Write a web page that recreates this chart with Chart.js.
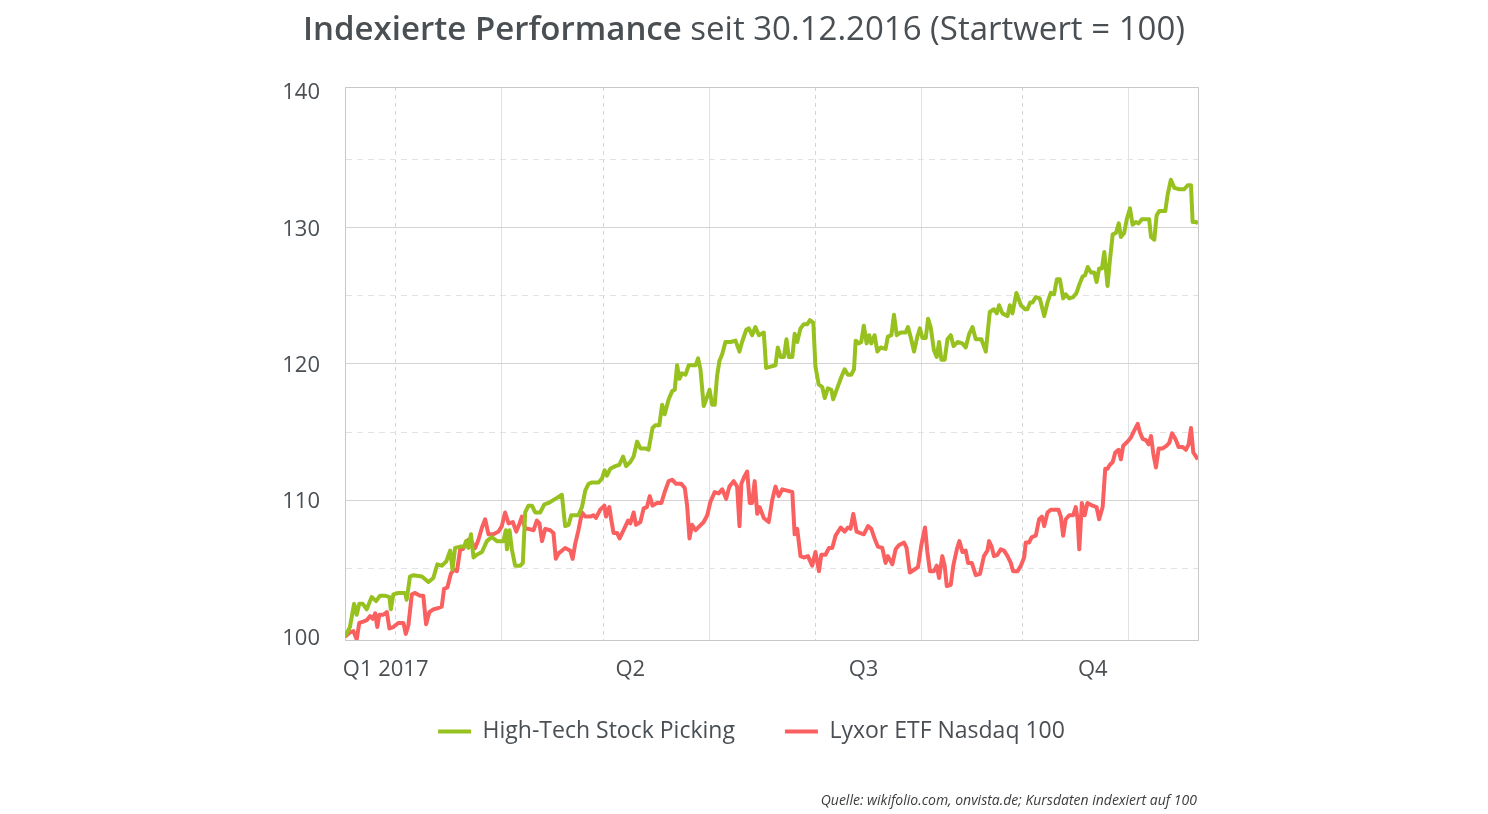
<!DOCTYPE html>
<html lang="de">
<head>
<meta charset="utf-8">
<title>Indexierte Performance</title>
<script src="https://cdn.jsdelivr.net/npm/chart.js@4/dist/chart.umd.min.js"></script>
<style>
  body { margin: 0; background: #fff; }
  #wrap { position: relative; width: 1488px; height: 814px; font-family: 'Open Sans', sans-serif; }
  #chart { position: absolute; left: 0; top: 0; }
  #titel { position: absolute; left: 0; top: 8px; width: 1488px; text-align: center; font-size: 33px; line-height: 40px; color: #4a4f54; }
  #titel b { font-weight: 600; }
  #quelle { position: absolute; right: 291px; top: 790px; font-size: 14px; line-height: 20px; font-style: italic; color: #3c3c3c; }
</style>
</head>
<body>
<div id="wrap">
  <canvas id="chart" width="1488" height="814"></canvas>
  <div id="titel"><b>Indexierte Performance</b> seit 30.12.2016 (Startwert = 100)</div>
  <div id="quelle">Quelle: wikifolio.com, onvista.de; Kursdaten indexiert auf 100</div>
</div>
<script>
// Tage seit 30.12.2016 und indexierte Werte (Startwert = 100)
const tageHT = [
  0, 2.1, 3.9, 5.0, 6.1, 7.6, 9.3, 11.4, 13.3, 15.0,
  17.1, 19.0, 19.6, 20.7, 22.8, 25.7, 26.4, 27.8, 29.3, 32.9,
  35.7, 37.8, 39.5, 41.4, 43.3, 45.0, 46.0, 47.1, 49.3, 51.0,
  51.8, 52.8, 53.9, 55.0, 56.4, 58.6, 60.7, 62.8, 65.0, 67.8,
  68.8, 69.3, 70.4, 71.4, 72.8, 75.0, 76.1, 77.1, 78.5, 80.0,
  81.4, 83.5, 85.3, 87.1, 90.0, 92.8, 94.2, 95.7, 96.8, 99.9,
  101.4, 102.8, 104.2, 105.7, 108.5, 110.0, 111.1, 112.1, 113.5, 115.7,
  117.4, 119.0, 120.3, 122.1, 123.5, 125.0, 126.4, 128.5, 129.9, 131.6,
  132.8, 134.5, 135.7, 136.8, 138.5, 140.0, 141.1, 142.1, 143.1, 144.2,
  145.7, 147.1, 148.8, 150.0, 151.1, 152.1, 153.5, 155.0, 156.0, 157.1,
  158.2, 159.2, 160.2, 161.4, 162.8, 165.0, 167.1, 168.8, 169.9, 171.7,
  172.8, 174.2, 175.6, 177.1, 179.2, 180.2, 182.1, 184.2, 185.2, 186.4,
  187.8, 188.9, 189.9, 191.4, 192.4, 193.5, 194.9, 196.3, 197.8, 198.9,
  200.4, 201.3, 202.7, 204.2, 205.3, 206.6, 208.1, 208.9, 210.6, 212.3,
  213.8, 215.2, 216.6, 217.8, 218.5, 219.9, 220.9, 222.0, 223.2, 224.3,
  225.2, 226.6, 227.8, 229.2, 231.3, 232.3, 233.8, 234.9, 236.1, 237.8,
  239.9, 240.9, 242.0, 243.5, 244.9, 246.0, 247.1, 248.5, 249.5, 250.6,
  252.0, 253.2, 254.2, 255.2, 256.6, 257.8, 259.2, 260.4, 262.1, 264.2,
  265.6, 267.1, 268.5, 269.9, 272.3, 274.2, 275.9, 277.7, 278.9, 279.9,
  281.3, 283.5, 284.5, 285.6, 287.3, 289.2, 291.0, 292.0, 293.2, 294.2,
  295.6, 297.3, 299.2, 300.6, 302.0, 303.4, 304.6, 305.9, 307.3, 308.4,
  309.9, 311.6, 313.0, 314.2, 315.6, 316.7, 317.8, 319.2, 320.6, 321.6,
  322.7, 323.9, 324.9, 326.3, 327.3, 328.5, 329.9, 331.1, 332.0, 333.4,
  334.5, 335.9, 337.0, 338.4, 339.6, 341.0, 344.1, 344.9, 346.3, 347.3,
  348.4, 351.0, 352.0, 353.4, 354.9, 357.0, 359.1, 360.6, 362.0, 362.7,
  364.1, 365.0
];
const wertHT = [
  100.0, 100.7, 102.4, 101.6, 102.4, 102.4, 102.0, 102.9, 102.6, 103.0,
  103.0, 102.9, 102.0, 103.1, 103.2, 103.2, 102.7, 104.4, 104.5, 104.4,
  104.0, 104.3, 105.3, 105.2, 105.5, 106.3, 104.9, 106.5, 106.6, 106.6,
  107.0, 106.5, 107.5, 105.8, 106.0, 106.2, 107.0, 107.3, 107.0, 107.0,
  107.8, 106.4, 107.8, 106.4, 105.2, 105.2, 105.4, 109.1, 109.6, 109.6,
  109.1, 109.1, 109.7, 109.8, 110.1, 110.4, 108.1, 108.2, 108.9, 108.9,
  109.5, 110.7, 111.2, 111.3, 111.3, 111.6, 112.2, 111.8, 112.3, 112.5,
  112.6, 113.2, 112.5, 112.8, 113.2, 114.3, 113.8, 113.8, 113.7, 115.3,
  115.5, 115.5, 117.0, 116.3, 117.4, 118.0, 118.1, 119.9, 118.9, 119.3,
  119.2, 119.9, 119.9, 119.9, 120.4, 119.6, 116.9, 117.6, 118.1, 117.0,
  117.0, 119.1, 120.2, 120.7, 121.6, 121.6, 121.7, 120.9, 121.6, 122.5,
  122.6, 122.1, 122.7, 122.1, 122.3, 119.7, 119.8, 119.9, 121.2, 120.5,
  120.5, 121.8, 120.5, 120.5, 122.2, 121.6, 122.6, 122.9, 122.9, 123.2,
  123.0, 119.8, 118.5, 118.3, 117.5, 118.2, 118.1, 117.4, 118.2, 119.0,
  119.6, 119.2, 119.2, 119.6, 121.7, 121.5, 121.6, 122.8, 121.5, 122.1,
  121.5, 122.1, 120.9, 121.2, 121.1, 122.0, 122.1, 123.6, 122.1, 122.3,
  122.3, 122.7, 122.0, 120.9, 122.0, 122.6, 121.9, 121.9, 123.3, 122.7,
  121.0, 120.5, 121.6, 120.3, 120.3, 121.8, 122.1, 121.3, 121.6, 121.5,
  121.2, 122.2, 122.7, 121.8, 121.8, 120.9, 123.8, 124.0, 123.7, 124.3,
  123.7, 123.5, 124.3, 123.7, 125.2, 124.3, 124.0, 124.0, 124.5, 124.5,
  124.9, 124.8, 123.5, 124.5, 125.2, 125.1, 126.2, 126.2, 124.8, 125.1,
  124.8, 124.9, 125.2, 125.8, 126.4, 126.5, 127.1, 126.7, 126.7, 126.0,
  127.0, 127.0, 128.2, 125.7, 127.6, 129.5, 129.6, 130.3, 129.3, 129.6,
  130.6, 131.4, 130.2, 130.4, 130.3, 130.6, 130.6, 129.3, 129.1, 130.9,
  131.2, 131.2, 132.4, 133.5, 132.9, 132.8, 132.8, 133.1, 133.1, 130.4,
  130.4, 130.3
];

const tageNdx = [
  0, 2.1, 3.6, 5.0, 6.1, 7.8, 9.3, 10.7, 11.9, 12.9,
  13.8, 14.7, 16.4, 17.9, 19.0, 20.7, 22.8, 25.0, 26.0, 27.1,
  28.6, 30.0, 32.1, 33.5, 34.7, 36.1, 37.8, 40.0, 41.4, 42.4,
  43.8, 45.3, 46.4, 47.9, 49.3, 50.4, 52.8, 54.3, 55.7, 57.1,
  58.6, 60.0, 61.4, 63.5, 65.7, 67.1, 68.5, 70.0, 71.8, 73.3,
  74.7, 75.7, 77.1, 78.5, 80.7, 82.1, 83.2, 84.3, 85.7, 87.8,
  89.2, 90.2, 91.4, 92.8, 94.2, 96.4, 97.4, 98.5, 99.9, 101.4,
  102.8, 105.0, 106.4, 107.4, 109.2, 111.0, 111.7, 113.1, 114.0, 114.9,
  116.4, 117.5, 119.2, 121.1, 122.1, 123.5, 124.5, 126.4, 127.8, 129.2,
  130.4, 131.6, 133.5, 135.4, 136.8, 138.5, 140.0, 141.7, 143.9, 145.4,
  146.4, 147.4, 148.5, 150.0, 151.7, 153.5, 155.0, 156.4, 158.2, 159.9,
  161.4, 163.1, 164.5, 166.3, 167.8, 168.8, 169.6, 170.8, 172.1, 173.2,
  174.2, 175.3, 176.4, 177.4, 179.2, 181.3, 182.8, 184.2, 185.6, 187.1,
  189.2, 191.4, 192.4, 193.5, 194.9, 196.3, 198.1, 199.9, 201.3, 202.8,
  203.8, 205.6, 207.1, 208.5, 209.9, 212.1, 213.8, 215.2, 216.3, 217.5,
  218.9, 220.3, 222.0, 223.8, 225.2, 226.6, 228.0, 229.9, 231.3, 232.3,
  234.2, 235.6, 237.0, 239.2, 240.3, 241.7, 243.5, 245.2, 246.6, 248.2,
  249.2, 250.3, 252.0, 253.2, 254.2, 255.6, 256.6, 257.5, 259.2, 260.3,
  261.8, 262.9, 264.2, 265.6, 266.6, 268.2, 269.9, 271.7, 273.4, 274.9,
  275.6, 276.7, 277.7, 279.2, 280.6, 282.0, 283.5, 284.9, 285.9, 287.8,
  289.2, 290.6, 291.3, 292.7, 293.9, 295.6, 297.0, 298.2, 299.2, 300.6,
  302.0, 305.3, 306.3, 307.3, 308.4, 309.9, 311.6, 312.7, 313.5, 314.2,
  315.3, 316.5, 317.7, 319.9, 321.6, 322.7, 324.2, 325.3, 326.3, 327.3,
  328.5, 329.6, 331.0, 332.0, 333.0, 334.9, 336.3, 337.7, 339.2, 340.1,
  341.3, 342.7, 343.9, 344.9, 345.9, 347.0, 348.2, 349.9, 351.6, 352.7,
  353.9, 355.3, 356.7, 358.4, 359.8, 361.0, 362.0, 363.0, 364.5, 365.0
];
const wertNdx = [
  100.0, 100.3, 100.4, 99.8, 101.0, 101.1, 101.2, 101.5, 101.3, 101.7,
  100.7, 101.6, 101.6, 101.8, 100.6, 100.7, 101.0, 101.0, 100.2, 100.8,
  103.1, 103.2, 103.0, 103.0, 100.9, 101.8, 102.0, 102.1, 102.2, 103.5,
  103.6, 104.6, 104.9, 104.8, 106.4, 106.4, 107.1, 106.9, 106.5, 107.1,
  108.0, 108.6, 107.5, 107.5, 107.7, 108.1, 109.1, 108.3, 108.4, 107.7,
  108.3, 108.8, 107.9, 107.9, 107.8, 108.5, 108.3, 107.0, 107.9, 107.8,
  107.6, 105.7, 106.1, 106.3, 106.5, 106.3, 105.7, 106.8, 107.8, 109.1,
  108.8, 108.8, 108.9, 108.7, 109.3, 109.6, 108.8, 109.5, 108.5, 107.6,
  107.6, 107.2, 107.8, 108.5, 108.3, 109.1, 108.2, 108.4, 109.4, 109.5,
  110.3, 109.6, 109.8, 109.8, 110.6, 111.4, 111.5, 111.2, 111.2, 110.9,
  109.6, 107.2, 108.2, 107.8, 108.1, 108.4, 108.9, 109.9, 110.6, 110.5,
  110.8, 110.1, 111.0, 111.4, 111.0, 108.1, 111.2, 111.7, 112.1, 109.8,
  109.8, 111.4, 109.0, 109.5, 108.7, 108.4, 110.0, 111.0, 110.3, 110.8,
  110.7, 110.6, 107.5, 107.9, 105.9, 105.8, 105.9, 105.2, 106.2, 104.8,
  106.0, 106.0, 106.5, 106.5, 107.4, 108.0, 107.7, 108.0, 107.9, 109.0,
  107.7, 107.6, 107.5, 108.1, 107.9, 107.2, 106.6, 106.5, 105.4, 105.9,
  105.3, 106.4, 106.7, 106.9, 106.5, 104.7, 104.9, 105.1, 106.7, 108.0,
  106.2, 104.8, 104.8, 105.2, 104.3, 105.9, 105.2, 103.7, 103.8, 105.2,
  106.4, 107.0, 106.2, 106.3, 105.4, 105.4, 104.5, 104.6, 105.9, 106.3,
  107.0, 106.6, 105.9, 106.0, 106.4, 106.3, 105.9, 105.4, 104.8, 104.8,
  105.2, 105.8, 106.9, 106.9, 107.3, 107.4, 108.6, 108.8, 108.1, 109.1,
  109.3, 109.3, 108.8, 107.4, 108.6, 108.9, 108.9, 109.5, 108.6, 106.4,
  109.8, 108.9, 109.8, 109.6, 109.5, 108.6, 109.5, 112.3, 112.3, 112.6,
  112.8, 113.5, 113.7, 113.0, 114.0, 114.3, 114.6, 115.1, 115.6, 115.0,
  114.5, 114.4, 114.1, 114.7, 113.4, 112.4, 113.8, 113.8, 114.0, 114.2,
  114.9, 114.5, 113.9, 113.9, 113.7, 114.1, 115.3, 113.5, 113.1, 113.0
];

// Achsen
const gitterTage = [0, 21.4, 66.8, 110.5, 155.9, 201.3, 246.8, 290.0, 335.4, 365];
const quartale = ['Q1 2017', 'Q2', 'Q3', 'Q4'];
const quartalTage = [17.4, 122.1, 221.9, 320.0];
const yTicks = [100, 105, 110, 115, 120, 125, 130, 135, 140];

const textFarbe = '#4a4f54';
const rahmen = '#c8c8c8';
const gruen = '#96c11f';
const rot = '#f9605f';

Chart.defaults.font.family = "'Open Sans', sans-serif";

const ctx = document.getElementById('chart').getContext('2d');
const chart = new Chart(ctx, {
    type: 'line',
    data: {
        datasets: [{
            label: 'High-Tech Stock Picking',
            data: tageHT.map((t, i) => ({ x: t, y: wertHT[i] })),
            borderColor: gruen,
            backgroundColor: gruen,
            borderWidth: 4,
            borderJoinStyle: 'round',
            pointRadius: 0,
            tension: 0
        }, {
            label: 'Lyxor ETF Nasdaq 100',
            data: tageNdx.map((t, i) => ({ x: t, y: wertNdx[i] })),
            borderColor: rot,
            backgroundColor: rot,
            borderWidth: 4,
            borderJoinStyle: 'round',
            pointRadius: 0,
            tension: 0
        }]
    },
    options: {
        responsive: false,
        animation: false,
        layout: { padding: { top: 87, left: 15, right: 0, bottom: 61 } },
        scales: {
            x: {
                type: 'linear',
                min: 0,
                max: 365,
                afterBuildTicks: s => { s.ticks = gitterTage.map(v => ({ value: v })); },
                afterFit: s => { s.height = 0; },
                ticks: { display: false },
                grid: {
                    drawTicks: false,
                    color: c => (c.index % 2 === 1) ? '#cfd6dc' : '#dde2e7'
                },
                border: {
                    color: rahmen,
                    dash: c => (c.tick && c.index % 2 === 1) ? [4, 4] : []
                }
            },
            x2: {
                type: 'linear',
                position: 'bottom',
                min: 0,
                max: 365,
                afterBuildTicks: s => { s.ticks = quartalTage.map(v => ({ value: v })); },
                afterFit: s => { s.height = 30; },
                ticks: {
                    callback: (v, i) => quartale[i],
                    autoSkip: false,
                    maxRotation: 0,
                    mirror: true,
                    padding: -43,
                    color: textFarbe,
                    font: { size: 22 }
                },
                grid: { display: false, drawTicks: false },
                border: { display: false }
            },
            xOben: {
                type: 'linear',
                position: 'top',
                min: 0,
                max: 365,
                afterFit: s => { s.height = 0; },
                ticks: { display: false },
                grid: { display: false, drawTicks: false },
                border: { color: rahmen }
            },
            y: {
                min: 99.75,
                max: 140.3,
                afterBuildTicks: s => { s.ticks = yTicks.map(v => ({ value: v })); },
                afterFit: s => { s.width = 330; },
                ticks: {
                    callback: v => (v % 10 === 0) ? v : '',
                    padding: 25,
                    labelOffset: 2,
                    color: textFarbe,
                    font: { size: 22 }
                },
                grid: {
                    drawTicks: false,
                    color: c => {
                        if (!c.tick) return '#d4d4d4';
                        const v = c.tick.value;
                        if (v === 100 || v === 140) return 'rgba(0,0,0,0)';
                        return (v % 10 !== 0) ? '#e2e2e2' : '#d4d4d4';
                    }
                },
                border: {
                    color: rahmen,
                    dash: c => (c.tick && c.tick.value % 10 !== 0) ? [6, 5] : []
                }
            },
            y2: {
                position: 'right',
                min: 99.75,
                max: 140.3,
                afterFit: s => { s.width = 290; },
                ticks: { display: false },
                grid: { display: false, drawTicks: false },
                border: { color: rahmen }
            }
        },
        plugins: {
            legend: {
                position: 'bottom',
                labels: {
                    usePointStyle: true,
                    pointStyle: 'line',
                    pointStyleWidth: 33,
                    padding: 50,
                    color: textFarbe,
                    font: { size: 23 }
                }
            },
            tooltip: { enabled: false }
        }
    }
});
</script>
</body>
</html>
